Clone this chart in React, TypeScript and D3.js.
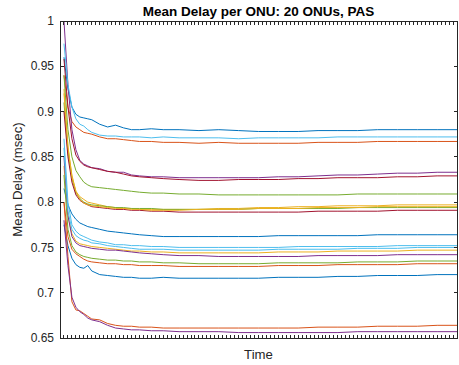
import React from "react";
import * as d3 from "d3";

const T = [1, 2, 3, 4, 5, 6, 7, 8, 10, 12, 14, 16, 18, 20, 23, 26, 30, 35, 40, 45, 50, 55, 60, 65, 70, 75, 80, 85, 90, 95, 100];

const s01 = [0.960, 0.925, 0.905, 0.897, 0.894, 0.893, 0.892, 0.891, 0.886, 0.883, 0.885, 0.882, 0.880, 0.880, 0.881, 0.880, 0.880, 0.879, 0.880, 0.879, 0.878, 0.878, 0.878, 0.879, 0.879, 0.879, 0.880, 0.880, 0.880, 0.880, 0.880];
const s02 = [0.940, 0.905, 0.889, 0.883, 0.880, 0.877, 0.876, 0.875, 0.872, 0.870, 0.870, 0.869, 0.868, 0.867, 0.867, 0.866, 0.866, 0.865, 0.866, 0.865, 0.865, 0.865, 0.865, 0.866, 0.866, 0.866, 0.867, 0.867, 0.867, 0.867, 0.867];
const s03 = [0.925, 0.860, 0.830, 0.812, 0.806, 0.803, 0.800, 0.799, 0.797, 0.795, 0.794, 0.793, 0.793, 0.792, 0.792, 0.792, 0.792, 0.792, 0.793, 0.793, 0.794, 0.794, 0.795, 0.795, 0.796, 0.796, 0.796, 0.797, 0.797, 0.797, 0.797];
const s04 = [1.000, 0.930, 0.880, 0.858, 0.846, 0.842, 0.840, 0.838, 0.837, 0.834, 0.833, 0.833, 0.830, 0.829, 0.828, 0.828, 0.827, 0.827, 0.827, 0.827, 0.827, 0.828, 0.828, 0.829, 0.830, 0.830, 0.831, 0.832, 0.832, 0.833, 0.833];
const s05 = [0.940, 0.880, 0.850, 0.835, 0.828, 0.822, 0.819, 0.817, 0.816, 0.815, 0.814, 0.813, 0.812, 0.811, 0.810, 0.810, 0.809, 0.809, 0.808, 0.808, 0.808, 0.808, 0.808, 0.808, 0.808, 0.809, 0.809, 0.809, 0.809, 0.809, 0.809];
const s06 = [0.975, 0.930, 0.905, 0.892, 0.886, 0.884, 0.880, 0.877, 0.874, 0.873, 0.873, 0.872, 0.872, 0.872, 0.871, 0.872, 0.871, 0.871, 0.871, 0.870, 0.871, 0.871, 0.871, 0.871, 0.872, 0.872, 0.872, 0.872, 0.872, 0.872, 0.872];
const s07 = [0.958, 0.905, 0.870, 0.852, 0.845, 0.841, 0.839, 0.838, 0.836, 0.834, 0.833, 0.831, 0.829, 0.828, 0.827, 0.826, 0.825, 0.824, 0.824, 0.825, 0.825, 0.825, 0.826, 0.826, 0.827, 0.827, 0.827, 0.828, 0.828, 0.829, 0.829];
const s08 = [0.815, 0.797, 0.787, 0.781, 0.777, 0.775, 0.773, 0.772, 0.770, 0.768, 0.767, 0.766, 0.765, 0.764, 0.763, 0.762, 0.762, 0.762, 0.762, 0.762, 0.762, 0.763, 0.763, 0.763, 0.763, 0.763, 0.764, 0.764, 0.764, 0.764, 0.764];
const s09 = [0.800, 0.762, 0.748, 0.743, 0.740, 0.737, 0.735, 0.734, 0.733, 0.732, 0.732, 0.731, 0.731, 0.730, 0.730, 0.730, 0.729, 0.729, 0.729, 0.729, 0.729, 0.730, 0.730, 0.730, 0.731, 0.731, 0.731, 0.731, 0.732, 0.732, 0.732];
const s10 = [0.840, 0.785, 0.765, 0.757, 0.754, 0.753, 0.752, 0.751, 0.750, 0.749, 0.748, 0.747, 0.746, 0.746, 0.745, 0.745, 0.744, 0.744, 0.744, 0.744, 0.744, 0.745, 0.745, 0.745, 0.746, 0.746, 0.746, 0.746, 0.747, 0.747, 0.747];
const s11 = [0.850, 0.785, 0.762, 0.755, 0.752, 0.751, 0.750, 0.749, 0.748, 0.747, 0.747, 0.746, 0.745, 0.744, 0.743, 0.742, 0.741, 0.741, 0.740, 0.740, 0.740, 0.740, 0.740, 0.741, 0.741, 0.741, 0.741, 0.742, 0.742, 0.742, 0.742];
const s12 = [0.910, 0.855, 0.826, 0.810, 0.804, 0.800, 0.798, 0.797, 0.796, 0.795, 0.794, 0.794, 0.793, 0.793, 0.793, 0.792, 0.792, 0.792, 0.792, 0.792, 0.793, 0.793, 0.793, 0.793, 0.793, 0.794, 0.794, 0.794, 0.794, 0.794, 0.794];
const s13 = [0.870, 0.800, 0.775, 0.768, 0.764, 0.762, 0.760, 0.758, 0.756, 0.755, 0.753, 0.753, 0.752, 0.752, 0.751, 0.751, 0.750, 0.750, 0.750, 0.750, 0.750, 0.750, 0.751, 0.751, 0.751, 0.751, 0.751, 0.752, 0.752, 0.752, 0.752];
const s14 = [0.900, 0.850, 0.822, 0.808, 0.802, 0.799, 0.797, 0.795, 0.794, 0.793, 0.792, 0.792, 0.791, 0.791, 0.790, 0.790, 0.789, 0.789, 0.789, 0.789, 0.789, 0.789, 0.789, 0.790, 0.790, 0.790, 0.790, 0.791, 0.791, 0.791, 0.791];
const s15 = [0.775, 0.752, 0.738, 0.731, 0.728, 0.727, 0.730, 0.724, 0.720, 0.719, 0.718, 0.717, 0.717, 0.716, 0.716, 0.717, 0.716, 0.716, 0.716, 0.716, 0.716, 0.717, 0.717, 0.717, 0.718, 0.718, 0.719, 0.719, 0.719, 0.720, 0.720];
const s16 = [0.800, 0.740, 0.690, 0.681, 0.680, 0.677, 0.674, 0.671, 0.670, 0.666, 0.664, 0.663, 0.663, 0.662, 0.662, 0.661, 0.661, 0.661, 0.661, 0.661, 0.661, 0.661, 0.661, 0.662, 0.662, 0.662, 0.663, 0.663, 0.663, 0.664, 0.664];
const s17 = [0.920, 0.862, 0.828, 0.812, 0.803, 0.799, 0.797, 0.796, 0.795, 0.794, 0.793, 0.793, 0.792, 0.792, 0.791, 0.791, 0.791, 0.792, 0.792, 0.792, 0.793, 0.793, 0.793, 0.794, 0.794, 0.794, 0.795, 0.795, 0.795, 0.795, 0.795];
const s18 = [0.780, 0.730, 0.695, 0.684, 0.679, 0.676, 0.672, 0.670, 0.668, 0.664, 0.661, 0.660, 0.659, 0.659, 0.658, 0.658, 0.657, 0.657, 0.657, 0.656, 0.656, 0.656, 0.656, 0.656, 0.656, 0.657, 0.657, 0.657, 0.657, 0.657, 0.657];
const s19 = [0.830, 0.770, 0.752, 0.745, 0.742, 0.740, 0.739, 0.738, 0.737, 0.736, 0.736, 0.735, 0.735, 0.734, 0.734, 0.733, 0.733, 0.732, 0.732, 0.732, 0.732, 0.733, 0.733, 0.733, 0.733, 0.734, 0.734, 0.734, 0.735, 0.735, 0.735];
const s20 = [0.860, 0.790, 0.770, 0.763, 0.760, 0.758, 0.757, 0.755, 0.754, 0.752, 0.751, 0.750, 0.749, 0.748, 0.748, 0.748, 0.747, 0.747, 0.747, 0.747, 0.747, 0.748, 0.748, 0.748, 0.748, 0.749, 0.749, 0.749, 0.750, 0.750, 0.750];

const SERIES = [s01, s02, s03, s04, s05, s06, s07, s08, s09, s10, s11, s12, s13, s14, s15, s16, s17, s18, s19, s20];
const COLORS = ["#0072BD", "#D95319", "#EDB120", "#7E2F8E", "#77AC30", "#4DBEEE", "#A2142F"];
const Y_TICKS = [0.65, 0.7, 0.75, 0.8, 0.85, 0.9, 0.95, 1];
const Y_TICK_LABELS = ["0.65", "0.7", "0.75", "0.8", "0.85", "0.9", "0.95", "1"];
const X_TICKS = d3.range(0, 101, 1);

const TITLE = "Mean Delay per ONU: 20 ONUs, PAS";
const X_LABEL = "Time";
const Y_LABEL = "Mean Delay (msec)";

export default function App() {
  const W = 459, H = 365;
  const L = 60, R = 457, TOP = 21, B = 338;
  const x = d3.scaleLinear().domain([0, 100]).range([L, R]);
  const y = d3.scaleLinear().domain([0.65, 1]).range([B, TOP]);
  const line = d3.line<number>().x((_, i) => x(T[i])).y((d) => y(d));
  const axis = "#262626";
  const font = "'Liberation Sans', Arial, Helvetica, sans-serif";
  const tl = 3.5;
  return (
    <svg width={W} height={H} style={{ position: "absolute", left: 0, top: 0, background: "#fff" }} fontFamily={font}>
      <rect x={0} y={0} width={W} height={H} fill="#fff" />
      <g>
        {SERIES.map((s, i) => (
          <path key={i} d={line(s) || ""} fill="none" stroke={COLORS[i % 7]} strokeWidth={1} />
        ))}
      </g>
      <g stroke={axis} strokeWidth={1} shapeRendering="crispEdges">
        <rect x={L} y={TOP} width={R - L} height={B - TOP} fill="none" />
        {X_TICKS.map((t) => (
          <g key={t}>
            <line x1={x(t)} x2={x(t)} y1={B} y2={B - tl} />
            <line x1={x(t)} x2={x(t)} y1={TOP} y2={TOP + tl} />
          </g>
        ))}
        {Y_TICKS.map((v) => (
          <g key={v}>
            <line x1={L} x2={L + tl} y1={y(v)} y2={y(v)} />
            <line x1={R} x2={R - tl} y1={y(v)} y2={y(v)} />
          </g>
        ))}
      </g>
      <g fill={axis} fontSize={12}>
        {Y_TICKS.map((v, i) => (
          <text key={v} x={L - 6} y={y(v)} dy="0.35em" textAnchor="end">{Y_TICK_LABELS[i]}</text>
        ))}
      </g>
      <g fill={axis} fontSize={13.2}>
        <text x={(L + R) / 2} y={359} textAnchor="middle">{X_LABEL}</text>
        <text transform={`translate(22,${(TOP + B) / 2}) rotate(-90)`} textAnchor="middle">{Y_LABEL}</text>
      </g>
      <text x={(L + R) / 2} y={16} textAnchor="middle" fontSize={13.5} fontWeight="bold" fill="#000">{TITLE}</text>
    </svg>
  );
}
